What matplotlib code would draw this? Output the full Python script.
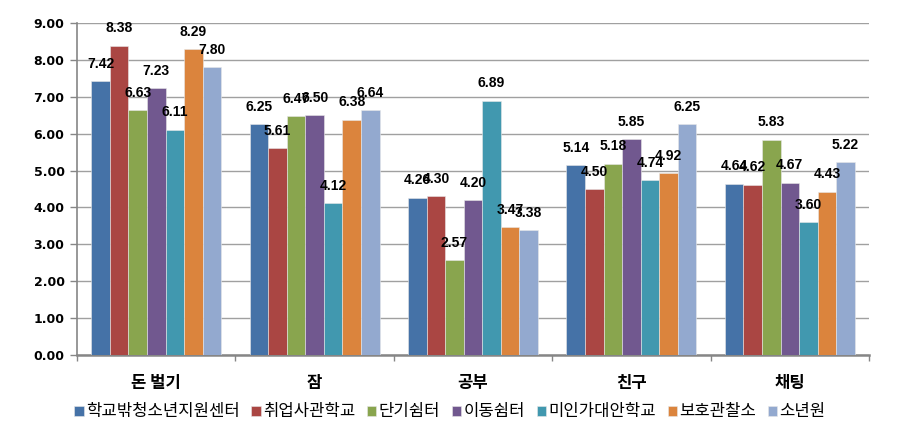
import matplotlib
matplotlib.use("Agg")
import matplotlib.pyplot as plt
import numpy as np

plt.rcParams['font.family'] = ['Noto Sans CJK KR', 'DejaVu Sans']

categories = ["돈 벌기", "잠", "공부", "친구", "채팅"]
series_names = ["학교밖청소년지원센터", "취업사관학교", "단기쉼터", "이동쉼터",
                "미인가대안학교", "보호관찰소", "소년원"]
values = {
    "학교밖청소년지원센터": [7.42, 6.25, 4.26, 5.14, 4.64],
    "취업사관학교": [8.38, 5.61, 4.30, 4.50, 4.62],
    "단기쉼터": [6.63, 6.47, 2.57, 5.18, 5.83],
    "이동쉼터": [7.23, 6.50, 4.20, 5.85, 4.67],
    "미인가대안학교": [6.11, 4.12, 6.89, 4.74, 3.60],
    "보호관찰소": [8.29, 6.38, 3.47, 4.92, 4.43],
    "소년원": [7.80, 6.64, 3.38, 6.25, 5.22],
}
yticks = [0, 1, 2, 3, 4, 5, 6, 7, 8, 9]
colors = ["#4572A7", "#AA4643", "#89A54E", "#71588F", "#4198AF", "#DB843D", "#93A9CF"]

fig = plt.figure(figsize=(9, 4.42), dpi=100)
ax = fig.add_axes([0.0856, 0.197, 0.880, 0.751])

n = len(series_names)
x = np.arange(len(categories))
group_w = 0.82
bw = group_w / n
for i, name in enumerate(series_names):
    pos = x - group_w / 2 + bw * (i + 0.5)
    bars = ax.bar(pos, values[name], width=bw, color=colors[i], edgecolor="#e8e8e8",
                  linewidth=0.4, zorder=3, label=name)
    for b, v in zip(bars, values[name]):
        ax.annotate(f"{v:.2f}", (b.get_x() + b.get_width() / 2, v),
                    xytext=(0, 7.5), textcoords="offset points", ha="center", va="bottom",
                    fontsize=10, fontweight="bold", family=["Liberation Sans", "DejaVu Sans"], zorder=5)

ax.set_xlim(-0.5, len(categories) - 0.5)
ax.set_ylim(0, 9)
ax.set_yticks(yticks)
ax.set_yticklabels([f"{t:.2f}" for t in yticks], fontsize=9, fontweight="bold", family=["DejaVu Sans"])
ax.yaxis.grid(True, color="#a0a0a0", linewidth=1.0, zorder=0)
ax.set_axisbelow(True)

ax.set_xticks(np.arange(len(categories) + 1) - 0.5)
ax.set_xticklabels([])
ax.set_xticks(x, minor=True)
ax.set_xticklabels(categories, minor=True, fontsize=12, fontweight="bold")
ax.tick_params(axis="x", which="minor", length=0, pad=14)
ax.tick_params(axis="x", which="major", length=4, color="#868686", width=1)
ax.tick_params(axis="y", length=5, color="#868686", width=1, pad=4)

for s in ["top", "right"]:
    ax.spines[s].set_visible(False)
ax.spines["left"].set_color("#868686")
ax.spines["bottom"].set_color("#868686")
ax.spines["bottom"].set_linewidth(1.8)
ax.spines["left"].set_linewidth(1.2)

fig.legend(loc="center", bbox_to_anchor=(0.5, 0.068), ncol=7, frameon=False,
           fontsize=12, handlelength=0.55, handleheight=0.55, handletextpad=0.15,
           columnspacing=0.7)

fig.savefig("out.png", dpi=100)
